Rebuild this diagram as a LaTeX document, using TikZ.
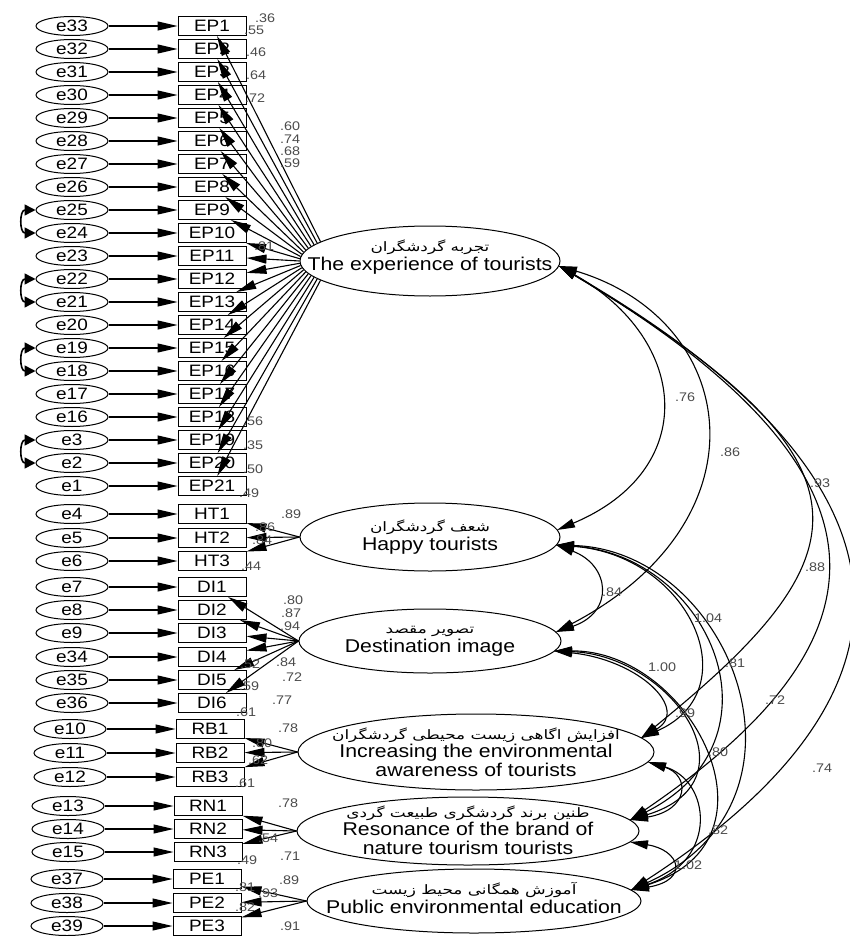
\documentclass[tikz,border=0pt]{standalone}
\usepackage{fontspec}
\setmainfont{Liberation Sans}
\newfontfamily\widefont[FakeStretch=1.15]{Liberation Sans}
\newfontfamily\farsifont[Script=Arabic,FakeStretch=1.3]{DejaVu Sans}
\TeXXeTstate=1
\usetikzlibrary{arrows.meta,shapes.geometric}
\newcommand{\fatext}[1]{{\farsifont\fontsize{13}{13}\selectfont\beginR #1\endR}}
\begin{document}
\begin{tikzpicture}[x=1pt,y=-1pt,
  err/.style={draw,ellipse,minimum width=72pt,minimum height=19pt,inner sep=0pt,line width=1pt,font=\widefont\fontsize{16.5}{16.5}\selectfont},
  obs/.style={draw,rectangle,minimum width=68pt,minimum height=19pt,inner sep=0pt,line width=1pt,font=\widefont\fontsize{16.5}{16.5}\selectfont},
  lat/.style={draw,ellipse,inner sep=0pt,line width=1pt},
  lattxt/.style={align=center,inner sep=0pt,font=\widefont\fontsize{18.5}{20}\selectfont},
  arr/.style={line width=1.1pt,-{Triangle[length=20pt,width=9pt]}},
  cov/.style={line width=1.1pt,{Triangle[length=18pt,width=9pt]}-{Triangle[length=18pt,width=9pt]}},
  ecov/.style={line width=1.6pt,{Triangle[length=11pt,width=11pt]}-{Triangle[length=11pt,width=11pt]}},
  val/.style={inner sep=0pt,text=black!70,font=\widefont\fontsize{12.5}{12.5}\selectfont},
]
\fill[white] (0,0) rectangle (850,936);
\useasboundingbox (0,0) rectangle (850,936);

% ---------- latent variables ----------
\node[lat,minimum width=260pt,minimum height=70pt] (EX) at (430,261) {};
\node[lattxt] (EXt) at (430,257) {\fatext{تجربه گردشگران}\\[-1pt]The experience of tourists};
\node[lat,minimum width=260pt,minimum height=68pt] (HA) at (430,537) {};
\node[lattxt] (HAt) at (430,537) {\fatext{شعف گردشگران}\\[-1pt]Happy tourists};
\node[lat,minimum width=262pt,minimum height=64pt] (DE) at (430,641) {};
\node[lattxt] (DEt) at (430,641) {\fatext{تصویر مقصد}\\[-1pt]Destination image};
\node[lat,minimum width=356pt,minimum height=76pt] (IN) at (476,752) {};
\node[lattxt] (INt) at (476,752) {\fatext{افزایش اگاهی زیست محیطی گردشگران}\\[-2pt]Increasing the environmental\\[-1pt]awareness of tourists};
\node[lat,minimum width=342pt,minimum height=68pt] (RS) at (468,831) {};
\node[lattxt] (RSt) at (468,830) {\fatext{طنین برند گردشگری طبیعت گردی}\\[-2pt]Resonance of the brand of\\[-1pt]nature tourism tourists};
\node[lat,minimum width=334pt,minimum height=64pt] (PU) at (474,901) {};
\node[lattxt] (PUt) at (474,898) {\fatext{آموزش همگانی محیط زیست}\\[-1pt]Public environmental education};

% ---------- EP indicators ----------
\foreach \i/\e in {1/33,2/32,3/31,4/30,5/29,6/28,7/27,8/26,9/25,10/24,11/23,12/22,13/21,14/20,15/19,16/18,17/17,18/16,19/3,20/2,21/1}{
  \pgfmathsetmacro\yy{26+(\i-1)*23}
  \node[err] (e\e) at (72,\yy) {e\e};
  \node[obs] (EP\i) at (212,\yy) {EP\i};
  \draw[arr] (e\e) -- (EP\i);
  \pgfmathtruncatemacro\ang{169+\i}
  \draw[arr] (EX.\ang) -- (EP\i);
}

% ---------- other indicators ----------
\foreach \n/\e/\yy/\dx/\lv in {HT1/4/514/0/HA,HT2/5/538/0/HA,HT3/6/561/0/HA,
  DI1/7/587/0/DE,DI2/8/610/0/DE,DI3/9/633/0/DE,DI4/34/657/0/DE,DI5/35/680/0/DE,DI6/36/703/0/DE,
  RB1/10/729/-2/IN,RB2/11/753/-2/IN,RB3/12/777/-2/IN,
  RN1/13/806/-4/RS,RN2/14/829/-4/RS,RN3/15/852/-4/RS,
  PE1/37/879/-5/PU,PE2/38/903/-5/PU,PE3/39/926/-5/PU}{
  \pgfmathsetmacro\xe{72+\dx}
  \pgfmathsetmacro\xb{212+\dx}
  \node[err] (e\e) at (\xe,\yy) {e\e};
  \node[obs] (\n) at (\xb,\yy) {\n};
  \draw[arr] (e\e) -- (\n);
  \draw[arr] (\lv.west) -- (\n);
}

% ---------- error covariances ----------
\draw[ecov] (e25.west) to[out=180,in=180,looseness=1.8] (e24.west);
\draw[ecov] (e22.west) to[out=180,in=180,looseness=1.8] (e21.west);
\draw[ecov] (e19.west) to[out=180,in=180,looseness=1.8] (e18.west);
\draw[ecov] (e3.west) to[out=180,in=180,looseness=1.8] (e2.west);

% ---------- arc end points ----------
\coordinate (Et) at (559,266);
\coordinate (Hu) at (557,530);
\coordinate (Hl) at (556,545);
\coordinate (Du) at (556,632);
\coordinate (Dl) at (554,651);
\coordinate (Iu) at (641,738);
\coordinate (Il) at (648,762);
\coordinate (Ru) at (630,820);
\coordinate (Rl) at (630,842);
\coordinate (Pt) at (631,890);

% ---------- latent covariances ----------
\draw[cov] (Et) .. controls (690,340) and (700,470) .. (Hu);
\draw[cov] (Et) .. controls (740,320) and (770,520) .. (Du);
\draw[cov] (Et) .. controls (889,464) and (867,555) .. (Iu);
\draw[cov] (Et) .. controls (910,475) and (895,640) .. (Ru);
\draw[cov] (Et) .. controls (945,490) and (925,700) .. (Pt);
\draw[cov] (Hl) .. controls (610,565) and (615,612) .. (Du);
\draw[cov] (Hl) .. controls (690,555) and (750,690) .. (Iu);
\draw[cov] (Hl) .. controls (710,555) and (790,740) .. (Ru);
\draw[cov] (Hl) .. controls (730,550) and (830,800) .. (Pt);
\draw[cov] (Dl) .. controls (640,660) and (690,710) .. (Iu);
\draw[cov] (Dl) .. controls (670,655) and (760,780) .. (Ru);
\draw[cov] (Dl) .. controls (690,650) and (790,840) .. (Pt);
\draw[cov] (Il) .. controls (690,775) and (690,810) .. (Ru);
\draw[cov] (Il) .. controls (710,780) and (720,860) .. (Pt);
\draw[cov] (Rl) .. controls (680,850) and (690,880) .. (Pt);

% ---------- values ----------
\foreach \x/\y/\t [count=\k] in {
  265/18/.36, 254/30/.55, 256/52/.46, 256/75/.64, 255/98/.72,
  290/126/.60, 290/139/.74, 290/151/.68, 290/163/.59,
  264/246/.81, 253/421/.56, 253/445/.35, 253/469/.50, 249/493/.49,
  291/514/.89, 265/527/.86, 262/540/.84, 251/566/.44,
  293/600/.80, 291/613/.87, 290/626/.94, 286/662/.84, 292/677/.72, 282/700/.77,
  250/664/.52, 249/686/.59, 246/712/.61,
  288/728/.78, 262/743/.80, 258/760/.62, 245/783/.61,
  288/803/.78, 268/838/.54, 290/856/.71, 247/860/.49,
  289/880/.89, 268/893/.93, 290/926/.91, 245/887/.81, 245/907/.82,
  685/397/.76, 730/452/.86, 820/483/.93, 815/567/.88, 822/768/.74,
  612/592/.84, 708/618/1.04, 735/663/.81, 775/700/.72,
  662/667/1.00, 718/752/.80, 718/830/.82, 685/713/.99, 688/865/1.02}{
  \node[val] (v\k) at (\x,\y) {\t};
}
\end{tikzpicture}
\end{document}
